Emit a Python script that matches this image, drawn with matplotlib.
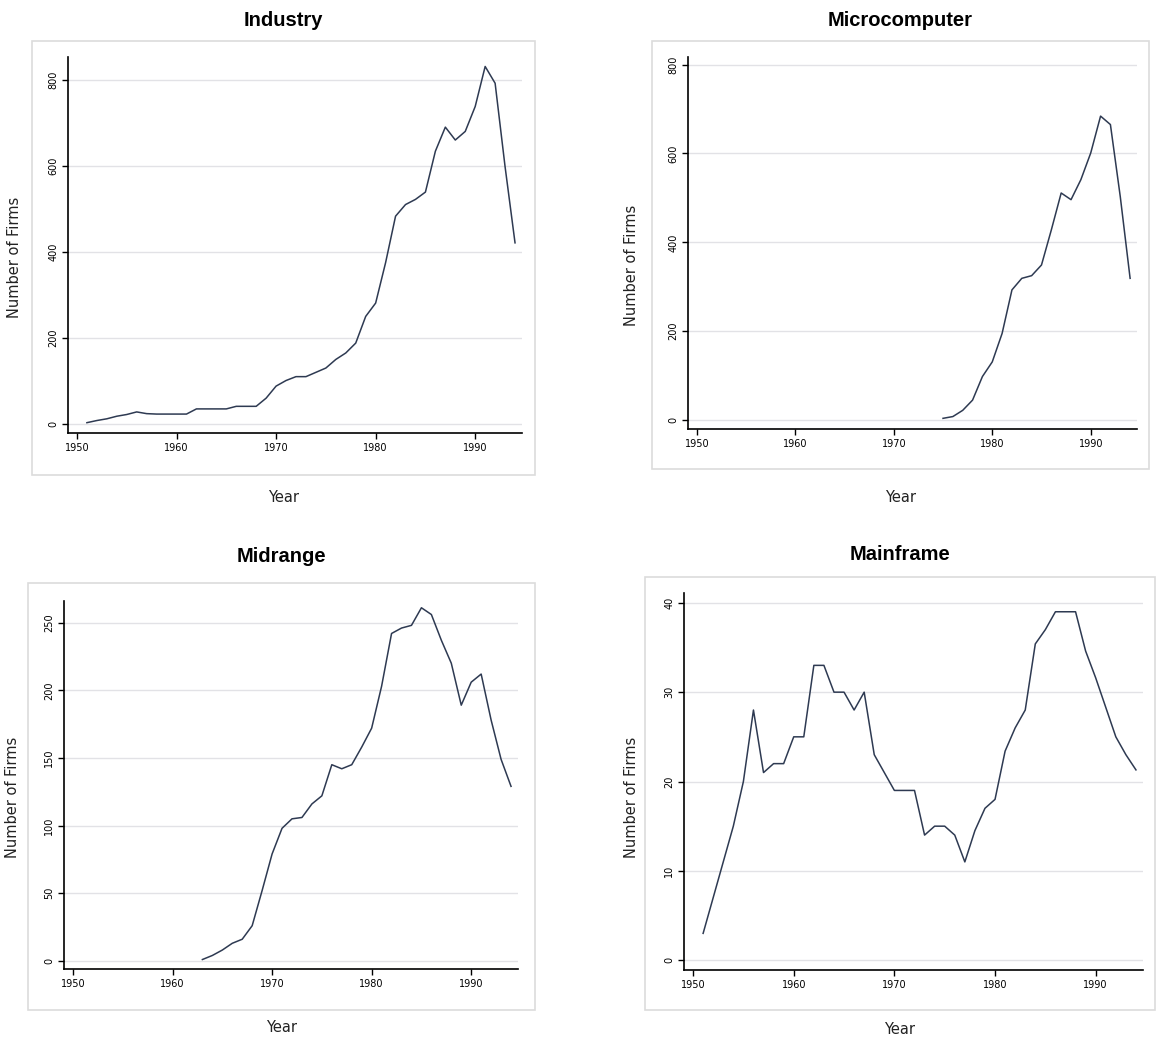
import numpy as np
import matplotlib
matplotlib.use("Agg")
import matplotlib.pyplot as plt
from matplotlib.patches import Rectangle

# --- data ---
years_industry = list(range(1951, 1995))
firms_industry = [3, 8, 12, 18, 22, 28, 24, 23, 23, 23, 23, 35, 35, 35, 35, 41,
                  41, 41, 60, 88, 101, 110, 110, 120, 130, 150, 165, 188, 250,
                  281, 375, 483, 510, 522, 539, 634, 690, 660, 680, 738, 831,
                  792, 598, 421]

years_micro = list(range(1975, 1995))
firms_micro = [4, 8, 22, 45, 98, 131, 195, 293, 319, 325, 349, 428, 511, 496,
               541, 601, 684, 665, 503, 319]

years_mid = list(range(1963, 1995))
firms_mid = [1, 4, 8, 13, 16, 26, 52, 79, 98, 105, 106, 116, 122, 145, 142,
             145, 158, 172, 203, 242, 246, 248, 261, 256, 237, 220, 189, 206,
             212, 178, 149, 129]

years_main = list(range(1951, 1995))
firms_main = [3, 7, 11, 15, 20, 28, 21, 22, 22, 25, 25, 33, 33, 30, 30, 28, 30,
              23, 21, 19, 19, 19, 14, 15, 15, 14, 11, 14.5, 17, 18, 23.4, 26,
              28, 35.4, 37, 39, 39, 39, 34.6, 31.6, 28.3, 25, 23, 21.3]

xticks = [1950, 1960, 1970, 1980, 1990]

W, H = 1157, 1046
fig = plt.figure(figsize=(W / 100, H / 100), dpi=100)

LINE = '#2e3a52'
GRID = '#e2e2e6'
FRAME = '#dcdcdc'


def px_rect(l, t, r, b):
    return [l / W, 1 - b / H, (r - l) / W, (b - t) / H]


def panel(box, frame, title, title_y, label_x, label_y, xlab_y,
          years, firms, yticks, ylim):
    fl, ft, fr, fb = frame
    fig.patches.append(Rectangle((fl / W, 1 - fb / H), (fr - fl) / W, (fb - ft) / H,
                                 transform=fig.transFigure, fill=False,
                                 edgecolor=FRAME, linewidth=1.2))
    ax = fig.add_axes(px_rect(*box))
    ax.plot(years, firms, color=LINE, linewidth=1.1)
    ax.set_xlim(1949.1, 1994.7)
    ax.set_ylim(*ylim)
    ax.set_xticks(xticks)
    ax.set_yticks(yticks)
    ax.set_yticklabels([str(v) for v in yticks], rotation=90, va='center')
    ax.tick_params(labelsize=7, length=4, width=1, pad=3)
    for v in yticks:
        ax.axhline(v, color=GRID, linewidth=1, zorder=0)
    ax.spines['top'].set_visible(False)
    ax.spines['right'].set_visible(False)
    ax.spines['left'].set_linewidth(1.2)
    ax.spines['bottom'].set_linewidth(1.2)
    cx = (fl + fr) / 2 / W
    fig.text(cx, 1 - title_y / H, title, ha='center', va='center',
             fontsize=14.5, fontweight='bold',
             family=['Liberation Sans', 'DejaVu Sans'])
    fig.text(cx, 1 - xlab_y / H, 'Year', ha='center', va='center',
             fontsize=10.5, color='#222222')
    fig.text(label_x / W, 1 - label_y / H, 'Number of Firms', ha='center',
             va='center', rotation=90, fontsize=10.5, color='#222222')
    return ax


panel((68, 57, 522, 433), (32, 41, 535, 475), 'Industry', 20, 15, 257, 498,
      years_industry, firms_industry, [0, 200, 400, 600, 800], (-21, 853))
panel((688, 57, 1137, 429), (652, 41, 1149, 469), 'Microcomputer', 20, 632, 265, 497,
      years_micro, firms_micro, [0, 200, 400, 600, 800], (-20, 817))
panel((64, 601, 518, 969), (28, 583, 535, 1010), 'Midrange', 556, 13, 797, 1027,
      years_mid, firms_mid, [0, 50, 100, 150, 200, 250], (-6, 266))
panel((684, 593, 1143, 970), (645, 577, 1155, 1010), 'Mainframe', 555, 632, 797, 1030,
      years_main, firms_main, [0, 10, 20, 30, 40], (-1.1, 41.1))

plt.savefig('out.png', dpi=100)
